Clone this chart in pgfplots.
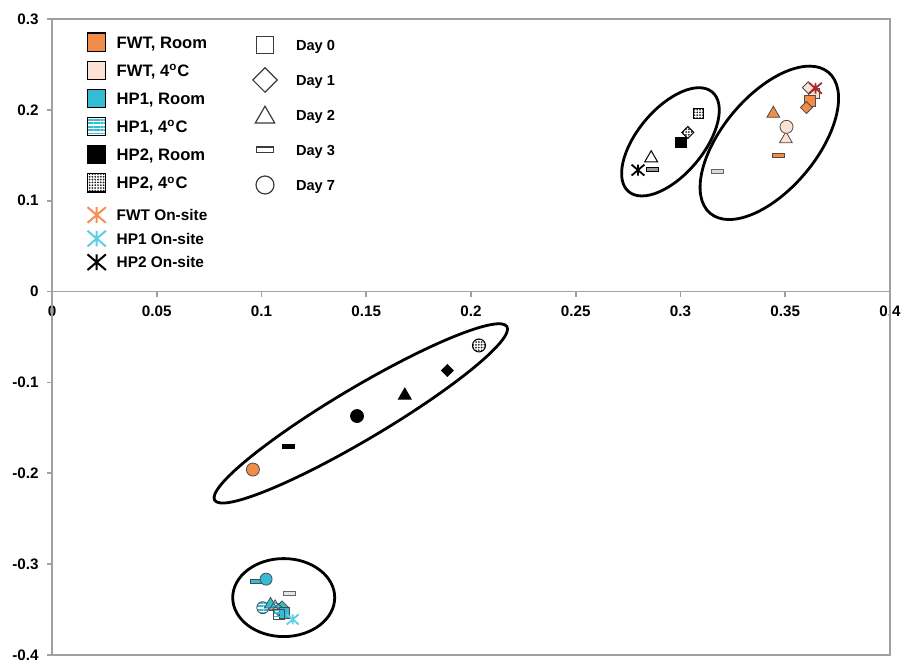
\documentclass[border=0pt]{standalone}
\usepackage{fontspec}
\setmainfont{Liberation Sans}
\usepackage{pgfplots}
\pgfplotsset{compat=1.18}
\usetikzlibrary{patterns,patterns.meta,shapes.geometric}

\definecolor{fwtroom}{RGB}{242,140,72}
\definecolor{fwtcold}{RGB}{252,226,210}
\definecolor{hproom}{RGB}{52,188,212}
\definecolor{hpstar}{RGB}{95,205,232}
\definecolor{fwtstar}{RGB}{245,142,85}
\definecolor{fwtsite}{RGB}{168,42,48}
\definecolor{framegray}{RGB}{160,160,160}
\definecolor{symgray}{RGB}{60,60,60}

\pgfdeclareplotmark{bar}{%
  \pgfpathrectangle{\pgfqpoint{-\pgfplotmarksize}{-0.33\pgfplotmarksize}}{\pgfqpoint{2\pgfplotmarksize}{0.66\pgfplotmarksize}}%
  \pgfusepathqfillstroke}
\pgfdeclareplotmark{xstar}{%
  \pgfpathmoveto{\pgfqpoint{0pt}{0.85\pgfplotmarksize}}\pgfpathlineto{\pgfqpoint{0pt}{-0.85\pgfplotmarksize}}%
  \pgfpathmoveto{\pgfqpoint{-\pgfplotmarksize}{0.85\pgfplotmarksize}}\pgfpathlineto{\pgfqpoint{\pgfplotmarksize}{-0.85\pgfplotmarksize}}%
  \pgfpathmoveto{\pgfqpoint{-\pgfplotmarksize}{-0.85\pgfplotmarksize}}\pgfpathlineto{\pgfqpoint{\pgfplotmarksize}{0.85\pgfplotmarksize}}%
  \pgfusepathqstroke}

\tikzset{
  hpstripes/.style={pattern={Lines[distance=1.7pt,line width=0.9pt,angle=0]}, pattern color=hproom},
  hpdots/.style={pattern={Dots[distance=1.4pt,radius=0.5pt]}, pattern color=black!85},
}
\pgfplotsset{
  leg/.style={scale only axis, width=419pt, height=318pt, hide axis,
    xmin=0, xmax=1, ymin=0, ymax=1, legend cell align=left},
}

\begin{document}
\begin{tikzpicture}
\begin{axis}[
  name=main,
  scale only axis, width=419pt, height=318pt,
  xmin=0, xmax=0.4, ymin=-0.4, ymax=0.3,
  clip=false,
  axis x line=middle, axis y line=left,
  axis line style={framegray, line width=0.9pt, -},
  hide obscured x ticks=false, hide obscured y ticks=false,
  xtick={0,0.05,0.1,0.15,0.2,0.25,0.3,0.35,0.4},
  xticklabels={0,0.05,0.1,0.15,0.2,0.25,0.3,0.35,0.4},
  ytick={-0.4,-0.3,-0.2,-0.1,0,0.1,0.2,0.3},
  yticklabels={-0.4,-0.3,-0.2,-0.1,0,0.1,0.2,0.3},
  tick align=outside, major tick length=2.5pt,
  tick style={framegray, line width=0.8pt},
  ticklabel style={font=\fontsize{7.6}{8}\selectfont\bfseries, inner sep=0pt},
  xticklabel style={anchor=north, yshift=-4.5pt},
  yticklabel style={anchor=east, xshift=-4pt},
  legend image code/.code={\path[draw=none, fill=none] (-5pt,-5pt) rectangle (5pt,5pt); \draw[#1] plot coordinates {(0pt,0pt)};},
  legend cell align=left,
  legend style={draw=none, fill=none, inner sep=0pt, outer sep=0pt,
    at={(rel axis cs:0,1)}, anchor=north west, xshift=17.15pt, yshift=-6.65pt,
    row sep=4.05pt, column sep=5.2pt,
    font=\fontsize{8.3}{9}\selectfont\bfseries,
    nodes={inner sep=0pt, text height=6pt, text depth=0pt}},
]
\draw[framegray, line width=0.9pt] (rel axis cs:0,0) rectangle (rel axis cs:1,1);

% legend images (squares)
\addlegendimage{only marks, mark=square*, mark size=4.6pt, mark options={fill=fwtroom, draw=black, line width=0.6pt}}
\addlegendentry{FWT, Room}
\addlegendimage{only marks, mark=square*, mark size=4.6pt, mark options={fill=fwtcold, draw=black, line width=0.6pt}}
\addlegendentry{FWT, 4\textsuperscript{o}C}
\addlegendimage{only marks, mark=square*, mark size=4.6pt, mark options={fill=hproom, draw=black, line width=0.6pt}}
\addlegendentry{HP1, Room}
\addlegendimage{only marks, mark=square*, mark size=4.6pt, mark options={hpstripes, draw=black, line width=0.6pt}}
\addlegendentry{HP1, 4\textsuperscript{o}C}
\addlegendimage{only marks, mark=square*, mark size=4.6pt, mark options={fill=black, draw=black, line width=0.6pt}}
\addlegendentry{HP2, Room}
\addlegendimage{only marks, mark=square*, mark size=4.6pt, mark options={hpdots, draw=black, line width=0.6pt}}
\addlegendentry{HP2, 4\textsuperscript{o}C}

% ellipses
\node[draw, ellipse, line width=1.4pt, inner sep=0pt, minimum width=92pt, minimum height=47pt, rotate=50] at (axis cs:0.3424,0.1637) {};
\node[draw, ellipse, line width=1.4pt, inner sep=0pt, minimum width=65pt, minimum height=33pt, rotate=50] at (axis cs:0.2952,0.1648) {};
\node[draw, ellipse, line width=1.4pt, inner sep=0pt, minimum width=170pt, minimum height=26pt, rotate=30.7] at (axis cs:0.1474,-0.1341) {};
\node[draw, ellipse, line width=1.4pt, inner sep=0pt, minimum width=51pt, minimum height=39pt] at (axis cs:0.1106,-0.3368) {};

% ---- HP2 Room (black)
\addplot[only marks, mark=square*, mark size=2.7pt, mark options={fill=black, draw=black, line width=0.4pt}, forget plot] coordinates {(0.3003,0.1642)};
\addplot[only marks, mark=square*, mark size=2.1pt, mark options={rotate=45, fill=black, draw=black, line width=0.4pt}, forget plot] coordinates {(0.1887,-0.0868)};
\addplot[only marks, mark=triangle*, mark size=3.7pt, mark options={fill=black, draw=black, line width=0.4pt}, forget plot] coordinates {(0.1684,-0.1143)};
\addplot[only marks, mark=bar, mark size=3pt, mark options={fill=black, draw=black, line width=0.4pt}, forget plot] coordinates {(0.1130,-0.1703)};
\addplot[only marks, mark=*, mark size=3.25pt, mark options={fill=black, draw=black, line width=0.4pt}, forget plot] coordinates {(0.1456,-0.1370)};
% ---- HP2 4C (dotted)
\addplot[only marks, mark=square*, mark size=2.7pt, mark options={hpdots, draw=black, line width=0.5pt}, forget plot] coordinates {(0.3086,0.1959)};
\addplot[only marks, mark=square*, mark size=2.1pt, mark options={rotate=45, hpdots, draw=black, line width=0.5pt}, forget plot] coordinates {(0.3035,0.1751)};
\addplot[only marks, mark=triangle*, mark size=3.7pt, mark options={fill=white, draw=black, line width=0.5pt}, forget plot] coordinates {(0.2860,0.1469)};
\addplot[only marks, mark=bar, mark size=3pt, mark options={fill=black!40, draw=black, line width=0.5pt}, forget plot] coordinates {(0.2868,0.1344)};
\addplot[only marks, mark=*, mark size=3.25pt, mark options={hpdots, draw=black, line width=0.5pt}, forget plot] coordinates {(0.2038,-0.0593)};
\addplot[only marks, mark=xstar, mark size=3.2pt, mark options={draw=black, line width=0.9pt}, forget plot] coordinates {(0.2797,0.1337)};

% ---- FWT Room (orange)
\addplot[only marks, mark=bar, mark size=3pt, mark options={fill=fwtroom, draw=black!70, line width=0.4pt}, forget plot] coordinates {(0.3467,0.1495)};
\addplot[only marks, mark=triangle*, mark size=3.7pt, mark options={fill=fwtroom, draw=black!70, line width=0.4pt}, forget plot] coordinates {(0.3443,0.1959)};
\addplot[only marks, mark=*, mark size=3.25pt, mark options={fill=fwtroom, draw=black!70, line width=0.4pt}, forget plot] coordinates {(0.0959,-0.1959)};
% ---- FWT 4C (light)
\addplot[only marks, mark=bar, mark size=3pt, mark options={fill=black!15, draw=black!60, line width=0.4pt}, forget plot] coordinates {(0.3178,0.1319)};
\addplot[only marks, mark=triangle*, mark size=3.7pt, mark options={fill=fwtcold, draw=black!70, line width=0.4pt}, forget plot] coordinates {(0.3503,0.1678)};
\addplot[only marks, mark=*, mark size=3.25pt, mark options={fill=fwtcold, draw=black!70, line width=0.4pt}, forget plot] coordinates {(0.3506,0.1813)};
\addplot[only marks, mark=square*, mark size=2.7pt, mark options={fill=fwtcold, draw=black!70, line width=0.4pt}, forget plot] coordinates {(0.3638,0.2180)};
\addplot[only marks, mark=square*, mark size=2.7pt, mark options={fill=fwtroom, draw=black!70, line width=0.4pt}, forget plot] coordinates {(0.3617,0.2099)};
\addplot[only marks, mark=square*, mark size=2.1pt, mark options={rotate=45, fill=fwtroom, draw=black!70, line width=0.4pt}, forget plot] coordinates {(0.3601,0.2025)};
\addplot[only marks, mark=square*, mark size=2.1pt, mark options={rotate=45, fill=fwtcold, draw=black!70, line width=0.4pt}, forget plot] coordinates {(0.3610,0.2245)};
\addplot[only marks, mark=xstar, mark size=3.2pt, mark options={draw=fwtsite, line width=0.9pt}, forget plot] coordinates {(0.3644,0.2238)};

% ---- HP1 Room (teal) and 4C (striped)
\addplot[only marks, mark=bar, mark size=3pt, mark options={fill=hproom, draw=black!70, line width=0.4pt}, forget plot] coordinates {(0.0975,-0.3194)};
\addplot[only marks, mark=*, mark size=3pt, mark options={fill=hproom, draw=black!70, line width=0.4pt}, forget plot] coordinates {(0.1022,-0.3165)};
\addplot[only marks, mark=bar, mark size=3pt, mark options={fill=black!10, draw=black!60, line width=0.4pt}, forget plot] coordinates {(0.1133,-0.3322)};
\addplot[only marks, mark=*, mark size=3pt, mark options={hpstripes, draw=black!70, line width=0.4pt}, forget plot] coordinates {(0.1006,-0.3479)};
\addplot[only marks, mark=triangle*, mark size=3.5pt, mark options={fill=hproom, draw=black!70, line width=0.4pt}, forget plot] coordinates {(0.1043,-0.3443)};
\addplot[only marks, mark=triangle*, mark size=3.5pt, mark options={hpstripes, draw=black!70, line width=0.4pt}, forget plot] coordinates {(0.1065,-0.3470)};
\addplot[only marks, mark=square*, mark size=2.1pt, mark options={rotate=45, fill=hproom, draw=black!70, line width=0.4pt}, forget plot] coordinates {(0.1098,-0.3470)};
\addplot[only marks, mark=square*, mark size=2.1pt, mark options={rotate=45, hpstripes, draw=black!70, line width=0.4pt}, forget plot] coordinates {(0.1080,-0.3500)};
\addplot[only marks, mark=square*, mark size=2.6pt, mark options={fill=hproom, draw=black!70, line width=0.4pt}, forget plot] coordinates {(0.1110,-0.3535)};
\addplot[only marks, mark=square*, mark size=2.6pt, mark options={hpstripes, draw=black!70, line width=0.4pt}, forget plot] coordinates {(0.1083,-0.3552)};
\addplot[only marks, mark=xstar, mark size=3pt, mark options={draw=hpstar, line width=0.9pt}, forget plot] coordinates {(0.1149,-0.3608)};
\end{axis}

% ---- on-site legend
\begin{axis}[leg, at={(main.south west)}, anchor=south west,
  legend image code/.code={\path[draw=none, fill=none] (-5pt,-5pt) rectangle (5pt,5pt); \draw[#1] plot coordinates {(0pt,0pt)};},
  legend style={draw=none, fill=none, inner sep=0pt, outer sep=0pt,
    at={(rel axis cs:0,1)}, anchor=north west, xshift=17.35pt, yshift=-93pt,
    row sep=1.8pt, column sep=5pt,
    font=\fontsize{7.7}{8}\selectfont\bfseries,
    nodes={inner sep=0pt, text height=5.5pt, text depth=0pt}}]
\addlegendimage{only marks, mark=xstar, mark size=4.6pt, mark options={draw=fwtstar, line width=1pt}}
\addlegendentry{FWT On-site}
\addlegendimage{only marks, mark=xstar, mark size=4.6pt, mark options={draw=hpstar, line width=1pt}}
\addlegendentry{HP1 On-site}
\addlegendimage{only marks, mark=xstar, mark size=4.6pt, mark options={draw=black, line width=1pt}}
\addlegendentry{HP2 On-site}
\end{axis}

% ---- day legend
\begin{axis}[leg, at={(main.south west)}, anchor=south west,
  legend image code/.code={\path[draw=none, fill=none] (-6.5pt,-6.5pt) rectangle (6.5pt,6.5pt); \draw[#1] plot coordinates {(0pt,0pt)};},
  legend style={draw=none, fill=none, inner sep=0pt, outer sep=0pt,
    at={(rel axis cs:0,1)}, anchor=north west, xshift=100pt, yshift=-6.5pt,
    row sep=4.5pt, column sep=9pt,
    font=\fontsize{7.3}{8}\selectfont\bfseries,
    nodes={inner sep=0pt, text height=5.2pt, text depth=0pt}}]
\addlegendimage{only marks, mark=square*, mark size=4.4pt, mark options={fill=white, draw=symgray, line width=0.6pt}}
\addlegendentry{Day 0}
\addlegendimage{only marks, mark=square*, mark size=4.3pt, mark options={rotate=45, fill=white, draw=symgray, line width=0.6pt}}
\addlegendentry{Day 1}
\addlegendimage{only marks, mark=triangle*, mark size=5.6pt, mark options={yshift=-1.2pt, fill=white, draw=symgray, line width=0.6pt}}
\addlegendentry{Day 2}
\addlegendimage{only marks, mark=bar, mark size=4.4pt, mark options={fill=white, draw=symgray, line width=0.6pt}}
\addlegendentry{Day 3}
\addlegendimage{only marks, mark=*, mark size=4.5pt, mark options={fill=white, draw=symgray, line width=0.6pt}}
\addlegendentry{Day 7}
\end{axis}

\pgfresetboundingbox
\useasboundingbox ([shift={(-26pt,-4.5pt)}]main.south west) rectangle ([shift={(5.5pt,9.5pt)}]main.north east);
\end{tikzpicture}
\end{document}
